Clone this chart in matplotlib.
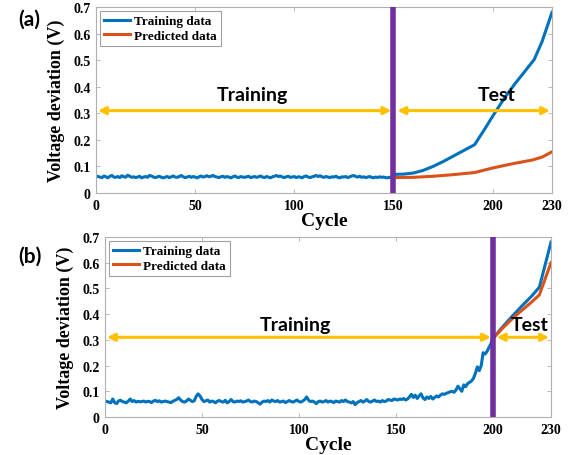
import matplotlib
matplotlib.use("Agg")
import matplotlib.pyplot as plt
import numpy as np

# ---------------- data ----------------
a_train_cycles = list(range(1, 151))
a_train_vals = [
    0.062,0.060,0.058,0.064,0.061,0.057,0.063,0.066,0.060,0.059,
    0.062,0.058,0.065,0.061,0.060,0.067,0.063,0.059,0.061,0.058,
    0.060,0.063,0.057,0.060,0.062,0.059,0.066,0.064,0.060,0.058,
    0.061,0.063,0.059,0.057,0.060,0.062,0.058,0.061,0.064,0.060,
    0.059,0.062,0.066,0.061,0.058,0.060,0.063,0.059,0.062,0.060,
    0.057,0.061,0.064,0.060,0.062,0.065,0.061,0.063,0.066,0.062,
    0.060,0.058,0.061,0.063,0.059,0.062,0.060,0.057,0.061,0.064,
    0.060,0.058,0.062,0.060,0.059,0.061,0.063,0.058,0.060,0.062,
    0.059,0.061,0.064,0.060,0.058,0.062,0.060,0.057,0.061,0.063,
    0.066,0.062,0.064,0.060,0.058,0.061,0.063,0.059,0.060,0.062,
    0.058,0.061,0.060,0.057,0.062,0.064,0.060,0.058,0.061,0.063,
    0.066,0.062,0.065,0.061,0.059,0.062,0.060,0.058,0.061,0.060,
    0.063,0.059,0.057,0.061,0.060,0.062,0.058,0.061,0.064,0.066,
    0.062,0.060,0.063,0.059,0.061,0.058,0.060,0.062,0.059,0.057,
    0.060,0.058,0.061,0.059,0.060,0.058,0.057,0.059,0.058,0.060,
]
a_test_cycles = [150, 155, 160, 165, 170, 175, 180, 185, 191, 196, 201, 206, 211, 216, 221, 225, 230]
a_test_true = [0.070, 0.071, 0.075, 0.085, 0.100, 0.118, 0.138, 0.158, 0.182, 0.240, 0.300, 0.357, 0.408, 0.455, 0.502, 0.570, 0.680]
a_pred_cycles = [150, 160, 170, 180, 191, 200, 210, 220, 225, 230]
a_pred_vals = [0.058, 0.059, 0.063, 0.069, 0.077, 0.094, 0.110, 0.124, 0.135, 0.155]

b_train_cycles = list(range(1, 201))
b_train_vals = [
    0.060,0.058,0.055,0.070,0.056,0.052,0.063,0.065,0.060,0.058,
    0.055,0.062,0.070,0.060,0.064,0.058,0.061,0.059,0.060,0.062,
    0.058,0.061,0.060,0.056,0.062,0.065,0.060,0.063,0.058,0.060,
    0.062,0.060,0.058,0.056,0.061,0.065,0.068,0.075,0.066,0.060,
    0.058,0.062,0.070,0.065,0.060,0.063,0.080,0.090,0.082,0.068,
    0.060,0.063,0.066,0.058,0.062,0.060,0.055,0.062,0.064,0.060,
    0.058,0.065,0.055,0.060,0.068,0.060,0.058,0.062,0.060,0.063,
    0.058,0.060,0.062,0.066,0.060,0.058,0.062,0.060,0.055,0.050,
    0.058,0.062,0.060,0.064,0.058,0.066,0.062,0.060,0.064,0.058,
    0.060,0.062,0.056,0.060,0.064,0.060,0.058,0.062,0.066,0.060,
    0.058,0.062,0.068,0.078,0.065,0.060,0.062,0.058,0.052,0.060,
    0.062,0.058,0.060,0.064,0.058,0.062,0.060,0.056,0.062,0.060,
    0.058,0.064,0.060,0.066,0.060,0.058,0.055,0.060,0.048,0.056,
    0.060,0.064,0.058,0.062,0.068,0.060,0.058,0.062,0.066,0.060,
    0.062,0.058,0.064,0.060,0.062,0.068,0.066,0.064,0.070,0.068,
    0.066,0.070,0.068,0.072,0.066,0.070,0.078,0.088,0.076,0.085,
    0.072,0.082,0.090,0.074,0.068,0.078,0.072,0.080,0.070,0.076,
    0.082,0.078,0.085,0.090,0.088,0.092,0.095,0.098,0.100,0.096,
    0.105,0.120,0.110,0.100,0.125,0.118,0.130,0.135,0.140,0.150,
    0.170,0.195,0.180,0.200,0.250,0.245,0.255,0.270,0.285,0.305,
]
b_test_cycles = [200, 205, 210, 215, 220, 224, 230]
b_test_true = [0.305, 0.350, 0.392, 0.432, 0.470, 0.505, 0.680]
b_pred_cycles = [200, 205, 210, 215, 220, 224, 230]
b_pred_vals = [0.305, 0.345, 0.382, 0.415, 0.447, 0.475, 0.600]

x_ticks = [0, 50, 100, 150, 200, 230]
y_ticks = [0, 0.1, 0.2, 0.3, 0.4, 0.5, 0.6, 0.7]
y_tick_labels = ["0", "0.1", "0.2", "0.3", "0.4", "0.5", "0.6", "0.7"]

BLUE = "#0072BD"
ORANGE = "#D95319"
PURPLE = "#7030A0"
YELLOW = "#FFC000"
SERIF = ["Liberation Serif", "DejaVu Serif"]
SANS = ["Lato", "DejaVu Sans"]

fig = plt.figure(figsize=(5.73, 4.56), dpi=100)
ax_a = fig.add_axes([96/573, 1-194/456, 456/573, 186/456])
ax_b = fig.add_axes([105/573, 1-418/456, 446/573, 180/456])


def style(ax):
    ax.set_xlim(0, 230)
    ax.set_ylim(0, 0.7)
    ax.set_xticks(x_ticks)
    ax.set_yticks(y_ticks)
    ax.set_yticklabels(y_tick_labels)
    ax.tick_params(direction="in", length=3, color="#b0b0b0", width=0.6,
                   top=True, right=True, labelsize=10, pad=4)
    for lab in ax.get_xticklabels() + ax.get_yticklabels():
        lab.set_fontfamily(SERIF)
        lab.set_fontweight("bold")
    for s in ax.spines.values():
        s.set_color("#b0b0b0")
        s.set_linewidth(0.8)
    ax.set_xlabel("Cycle", fontfamily=SERIF, fontweight="bold", fontsize=14, labelpad=0)
    ax.set_ylabel("Voltage deviation (V)", fontfamily=SERIF, fontweight="bold", fontsize=13, labelpad=6)


def arrow(ax, x0, x1, y):
    ax.annotate("", xy=(x1, y), xytext=(x0, y),
                arrowprops=dict(arrowstyle="<|-|>", color=YELLOW, lw=2.2,
                                mutation_scale=11, shrinkA=0, shrinkB=0))


# ---- panel (a) ----
style(ax_a)
l1, = ax_a.plot(a_train_cycles, a_train_vals, color=BLUE, lw=2.2, label="Training data")
ax_a.plot(a_test_cycles, a_test_true, color=BLUE, lw=2.2)
l2, = ax_a.plot(a_pred_cycles, a_pred_vals, color=ORANGE, lw=2.2, label="Predicted data")
ax_a.axvline(150, color=PURPLE, lw=4, zorder=5)
arrow(ax_a, 1, 149, 0.31)
arrow(ax_a, 152, 229, 0.31)
ax_a.text(79, 0.37, "Training", fontfamily=SANS, fontweight="bold", fontsize=14, ha="center", va="center")
ax_a.text(202, 0.37, "Test", fontfamily=SANS, fontweight="bold", fontsize=14, ha="center", va="center")
leg = ax_a.legend(handles=[l1, l2], loc="upper left", prop=dict(family=SERIF, weight="bold", size=9.5),
                  handlelength=2.0, handletextpad=0.3, borderpad=0.3, labelspacing=0.2,
                  fancybox=False, edgecolor="#888888", borderaxespad=0.3)
leg.get_frame().set_linewidth(0.8)

# ---- panel (b) ----
style(ax_b)
m1, = ax_b.plot(b_train_cycles, b_train_vals, color=BLUE, lw=2.2, label="Training data")
ax_b.plot(b_test_cycles, b_test_true, color=BLUE, lw=2.2)
m2, = ax_b.plot(b_pred_cycles, b_pred_vals, color=ORANGE, lw=2.2, label="Predicted data")
ax_b.axvline(200, color=PURPLE, lw=4, zorder=5)
arrow(ax_b, 1, 199, 0.31)
arrow(ax_b, 202, 229, 0.31)
ax_b.text(98, 0.36, "Training", fontfamily=SANS, fontweight="bold", fontsize=14, ha="center", va="center")
ax_b.text(219, 0.36, "Test", fontfamily=SANS, fontweight="bold", fontsize=14, ha="center", va="center")
leg = ax_b.legend(handles=[m1, m2], loc="upper left", prop=dict(family=SERIF, weight="bold", size=9.5),
                  handlelength=2.0, handletextpad=0.3, borderpad=0.3, labelspacing=0.2,
                  fancybox=False, edgecolor="#888888", borderaxespad=0.3)
leg.get_frame().set_linewidth(0.8)

fig.text(18/573, 1-20/456, "(a)", fontfamily=SANS, fontweight="bold", fontsize=15, ha="left", va="center")
fig.text(18/573, 1-257/456, "(b)", fontfamily=SANS, fontweight="bold", fontsize=15, ha="left", va="center")

fig.savefig("out.png", dpi=100)
